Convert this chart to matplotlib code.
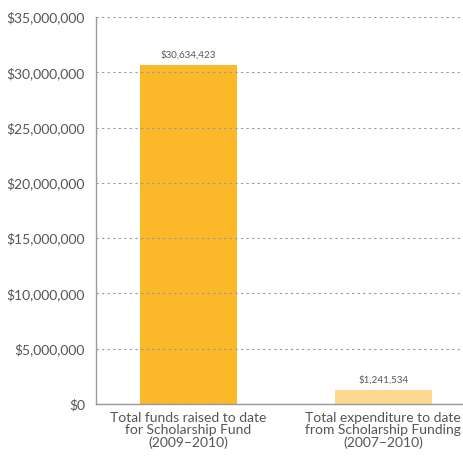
import matplotlib
matplotlib.use("Agg")
import matplotlib.pyplot as plt
from matplotlib.ticker import FuncFormatter

# data
categories = ["Total funds raised to date\nfor Scholarship Fund\n(2009\u20132010)",
              "Total expenditure to date\nfrom Scholarship Funding\n(2007\u20132010)"]
values = [30634423, 1241534]
colors = ["#FBB829", "#FDD893"]
yticks = list(range(0, 35000001, 5000000))

plt.rcParams['font.family'] = ['Lato', 'DejaVu Sans']
text_color = "#555555"

fig = plt.figure(figsize=(4.63, 4.61), dpi=100)
ax = fig.add_axes([96 / 463, 57 / 461, 1 - 96 / 463, (404 - 17) / 461])

x = range(len(values))
ax.bar(x, values, width=0.5, color=colors, zorder=1)

for xi, v in zip(x, values):
    ax.annotate(f"${v:,}", (xi, v), xytext=(0, 4), textcoords="offset points",
                ha="center", va="bottom", fontsize=7, color=text_color)

ax.set_ylim(0, 35000000)
ax.set_xlim(-0.475, 1.41)
ax.set_yticks(yticks)
ax.yaxis.set_major_formatter(FuncFormatter(lambda v, p: f"${v:,.0f}"))
ax.set_xticks(list(x))
ax.set_xticklabels(categories, linespacing=1.0)

ax.grid(axis="y", linestyle=(0, (2, 3)), color="#999999", linewidth=0.8, zorder=3)
ax.set_axisbelow(False)
for s in ["top", "right"]:
    ax.spines[s].set_visible(False)
for s in ["left", "bottom"]:
    ax.spines[s].set_color("#999999")
    ax.spines[s].set_linewidth(1.0)
    ax.spines[s].set_zorder(4)

ax.tick_params(axis="both", length=0, labelsize=10, colors=text_color)
ax.tick_params(axis="y", pad=8)
ax.tick_params(axis="x", pad=6)

fig.savefig("out.png", dpi=100)
